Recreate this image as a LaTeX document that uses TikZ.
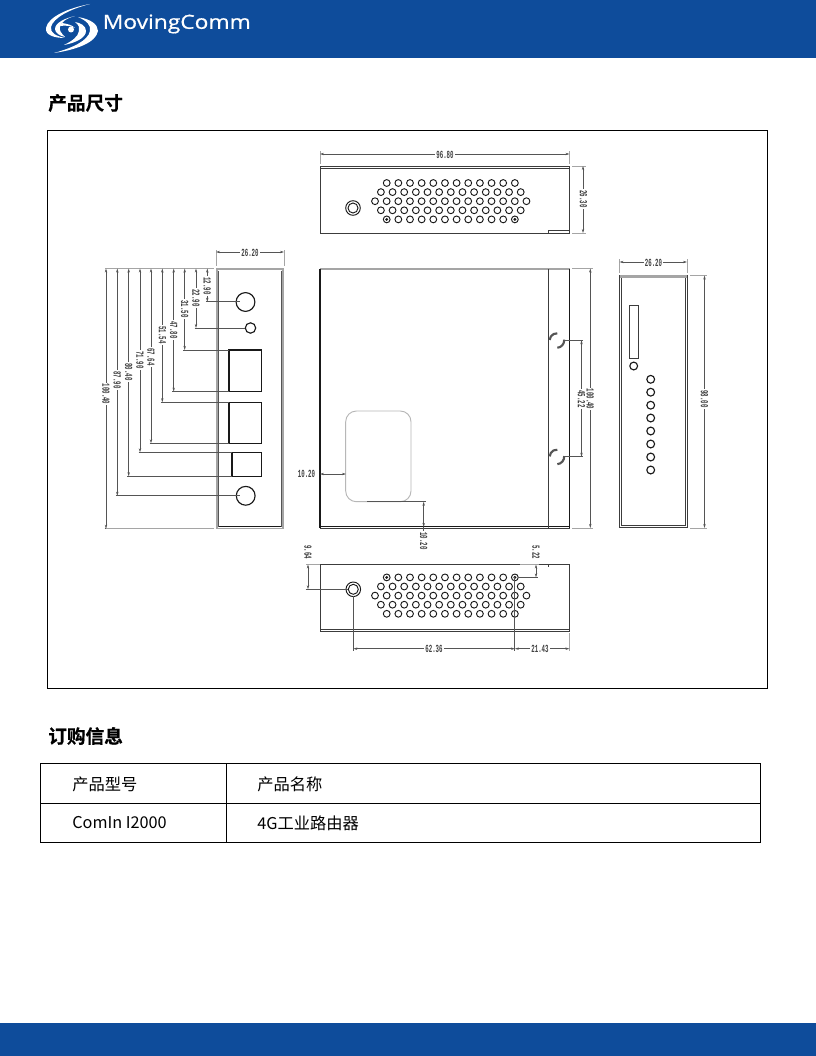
\documentclass[tikz,border=0pt]{standalone}
\usepackage{fontspec}
\setmainfont{Noto Sans CJK SC}
\newfontfamily\titlefont[FakeBold=0.5]{Noto Sans CJK SC Bold}
\newfontfamily\logofont[FakeBold=0.7]{Open Sans}
\newfontfamily\dimfont{Liberation Mono}
\usetikzlibrary{arrows.meta}
\definecolor{band}{RGB}{14,76,155}
\definecolor{dimc}{RGB}{85,85,85}
\definecolor{extc}{RGB}{165,165,165}
\definecolor{ink}{RGB}{25,25,25}
\tikzset{
  px/.style={x=0.75pt,y=-0.75pt},
  body/.style={draw=ink,line width=0.85pt},
  thin body/.style={draw=ink!85,line width=0.6pt},
  soft/.style={draw=extc,line width=1.7pt},
  ext/.style={draw=extc,line width=0.55pt},
  dim/.style={draw=dimc,line width=0.55pt,{Stealth[length=3pt,width=1.8pt]}-{Stealth[length=3pt,width=1.8pt]}},
  lead/.style={draw=dimc,line width=0.65pt},
  hole/.style={draw=ink,line width=0.7pt},
  dimlabel/.style={fill=white,inner sep=0.8pt,text=dimc!75!black,font=\dimfont\bfseries\fontsize{4.3}{5}\selectfont},
  title/.style={anchor=west,inner sep=0,font=\titlefont\fontsize{14}{16}\selectfont,text=black},
  cell/.style={anchor=west,inner sep=0,font=\fontsize{12.2}{14}\selectfont,text=black},
  grid/.style={draw=black,line width=0.75pt},
}
\newcommand{\hl}[4]{\node[dimlabel] (#1) at (#2,#3) {\scalebox{1}[1.9]{#4}};}
\newcommand{\vl}[4]{\node[dimlabel,rotate=-90] (#1) at (#2,#3) {\scalebox{1}[1.9]{#4}};}
\newcommand{\holes}[1]{% #1 = y of the first row
  \foreach \ry/\xs/\nn in {0/386.7/11,1/380.9/12,2/375/13,3/380.9/12,4/386.7/11}{
    \foreach \i in {0,...,\nn}{
      \draw[hole] ({\xs+\i*11.65},{#1+\ry*9.1}) circle[radius=3.4];
    }
  }
}
\begin{document}
\begin{tikzpicture}[px]
\useasboundingbox (0,0) rectangle (816,1056);
\fill[white] (0,0) rectangle (816,1056);
% bands
\fill[band] (0,0) rectangle (816,58);
\fill[band] (0,1023) rectangle (816,1056);
% logo swirl
\fill[white] (90,4) .. controls (68,8) and (48,17) .. (46,28) .. controls (45,35) and (54,38) .. (65,38)
  .. controls (56,36) and (50,33) .. (51,27) .. controls (53,18) and (70,9) .. (90,4) -- cycle;
\fill[white] (75,16) .. controls (65,18) and (55,23) .. (55,29) .. controls (55,33) and (60,36) .. (65,37)
  .. controls (61,33) and (59,30) .. (60,27) .. controls (61,22) and (67,18) .. (75,16) -- cycle;
\fill[white] (54,53) .. controls (75,50) and (96,43) .. (98,31) .. controls (98,24) and (90,19) .. (78,17)
  .. controls (87,21) and (91,25) .. (90,31) .. controls (88,41) and (72,48) .. (54,53) -- cycle;
\fill[white] (64,45) .. controls (75,43) and (86,38) .. (86,31) .. controls (86,26) and (81,23) .. (75,22)
  .. controls (79,25) and (80,28) .. (79,31) .. controls (78,37) and (72,41) .. (64,45) -- cycle;
\fill[white] (62,23) .. controls (68,24) and (72,25) .. (75,28) .. controls (71,26) and (66,25) .. (60,26) -- cycle;
\fill[white] (71,29.5) circle[radius=3];
\node[inner sep=0,anchor=center,text=white] (logotext) at (176.8,24) {\scalebox{1.17}[1]{\logofont\fontsize{14.6}{16}\selectfont MovingComm}};
% titles
\node[title] (t1) at (48,103) {产品尺寸};
\node[title] (t2) at (48,736) {订购信息};
% frame
\draw[draw=black,line width=0.6pt] (47.5,130.5) rectangle (767.5,688);

%% ---------- top view
\draw[thin body] (320,233) -- (320,166.5) -- (569.5,166.5) -- (569.5,233) -- cycle;
\draw[thin body] (320,168.5) -- (569.5,168.5);
\draw[thin body] (548,233) -- (548,230.8) -- (569.5,230.8);
\holes{183}
\foreach \hx in {386.7,514.9}{\fill[ink] (\hx,219.4) circle[radius=1.6];}
\draw[hole] (353,208) circle[radius=7.3];
\draw[hole] (353,208) circle[radius=5];
\draw[ext] (320,151) -- (320,164);
\draw[ext] (569.5,151) -- (569.5,164);
\draw[dim] (320,154) -- (569.5,154);
\hl{a}{445}{154.5}{96.80}
\draw[ext] (572,166) -- (586,166);
\draw[ext] (572,233) -- (586,233);
\draw[dim] (583,166) -- (583,233);
\vl{b}{583.5}{199}{26.30}

%% ---------- left (end) view
\draw[soft] (217.1,268.5) -- (217.1,528) (282.9,268.5) -- (282.9,528) (216,269.3) -- (284,269.3);
\draw[draw=dimc,line width=0.6pt] (218.8,270.5) -- (218.8,526.5) (281.4,270.5) -- (281.4,526.5);
\draw[body] (218.8,526.5) -- (281.4,526.5);
\draw[ext] (216,528.7) -- (284,528.7);
\draw[body] (245.5,302) circle[radius=9.4];
\draw[body] (250.5,328) circle[radius=5.2];
\draw[body] (229,350) rectangle (261.5,391.6);
\draw[body] (229,402.3) rectangle (261.5,443.3);
\draw[body] (232,452.3) rectangle (261.5,476.3);
\draw[body] (245.7,495.8) circle[radius=9.4];
\draw[ext] (216,250) -- (216,266);
\draw[ext] (284,250) -- (284,266);
\draw[dim] (216,252) -- (284,252);
\hl{c}{250}{252.5}{26.20}
\draw[ext] (105,268.5) -- (214,268.5);
\draw[ext] (105,528.7) -- (214,528.7);
% x, bottom y, leader end x, label y, text
\foreach \dx/\dy/\ex/\ly/\tx in {
  207.3/301.8/240/286/12.90,
  196/328/245/298/22.90,
  184.7/350/229/309/31.50,
  173.7/391.6/229/330/47.80,
  162.3/402.3/229/335/51.54,
  151/443.3/229/357/67.64,
  140/452.3/232/360/71.90,
  128.7/476.3/232/372/80.40,
  117.3/495.8/240/380/87.90,
  106/528.7/106/394/100.40}{
  \draw[dim] (\dx,268.5) -- (\dx,\dy);
  \draw[lead] (\dx-1.5,\dy) -- (\ex,\dy);
  \vl{l\dx}{\dx}{\ly}{\tx}
}

%% ---------- main (plan) view
\draw[soft] (320,269.3) -- (569.5,269.3);
\draw[body] (320,269) -- (320,527.5);
\draw[body] (569.5,269) -- (569.5,527.5);
\draw[body] (320,526.3) -- (569.5,526.3);
\draw[thin body] (320,528) -- (569.5,528);
\draw[thin body] (548.3,269) -- (548.3,528);
\draw[draw=extc!80,line width=0.7pt,rounded corners=8pt] (345.7,411) rectangle (411,501.7);
\draw[lead] (367,501.7) -- (426,501.7);
\foreach \sy in {340.3,456.7}{
  \draw[draw=dimc,line width=1.6pt] (556.7,\sy) ++(183:7) arc[start angle=183,end angle=275,radius=7];
  \draw[draw=dimc,line width=1.6pt] (556.7,\sy) ++(-5:7.5) arc[start angle=-5,end angle=85,radius=7.5];
}
\draw[dim] (320,474) -- (346,474);
\hl{d}{306.5}{474}{10.20}
\draw[dim] (423.7,501.7) -- (423.7,527);
\draw[lead] (423.7,527) -- (423.7,532);
\vl{e}{423.7}{541}{10.20}
\draw[ext] (572,268.5) -- (593,268.5);
\draw[ext] (572,528) -- (593,528);
\draw[dim] (590.3,268.5) -- (590.3,528);
\vl{f}{590.3}{399}{100.40}
\draw[lead] (565,340.3) -- (583,340.3);
\draw[lead] (565,456.7) -- (583,456.7);
\draw[dim] (581.5,340.3) -- (581.5,456.7);
\vl{g}{581.5}{399}{45.22}

%% ---------- right (front) view
\draw[thin body] (619.5,275.8) rectangle (687,527.7);
\draw[thin body] (621.5,277.8) rectangle (685,525.8);
\draw[soft] (620,276.5) -- (686.5,276.5);
\draw[thin body] (629,305) rectangle (638.3,358.3);
\draw[body] (633.7,366) circle[radius=3.9];
\foreach \ly in {379.3,392.2,405.2,418,431,444,457,470}{
  \draw[body] (650.7,\ly) circle[radius=3.9];
}
\draw[ext] (619.5,259) -- (619.5,273);
\draw[ext] (687,259) -- (687,273);
\draw[dim] (619.5,262) -- (687,262);
\hl{h}{653.5}{262.5}{26.20}
\draw[ext] (690,275.5) -- (707,275.5);
\draw[ext] (690,528) -- (707,528);
\draw[dim] (704.5,275.5) -- (704.5,528);
\vl{i}{704.5}{399}{98.00}

%% ---------- bottom view
\draw[thin body] (320,564.5) -- (320,631.7) -- (569.5,631.7) -- (569.5,564.5) -- cycle;
\draw[thin body] (320,629.3) -- (569.5,629.3);
\draw[thin body] (548.3,564.5) -- (548.3,566.5);
\holes{577.4}
\foreach \hx in {386.7,514.9}{\fill[ink] (\hx,577.4) circle[radius=1.6];}
\draw[hole] (353.3,589.3) circle[radius=7.3];
\draw[hole] (353.3,589.3) circle[radius=5];
\draw[ext] (306,564.5) -- (320,564.5);
\draw[lead] (305.5,589.3) -- (348,589.3);
\draw[dim] (308,564.5) -- (308,589.3);
\vl{j}{308}{552}{9.64}
\draw[ext] (520,564.5) -- (539,564.5);
\draw[lead] (518,577.4) -- (538,577.4);
\draw[dim] (536,564.5) -- (536,577.4);
\vl{k}{536}{552}{5.22}
\draw[lead] (353.3,596) -- (353.3,651);
\draw[lead] (514.9,577.4) -- (514.9,651);
\draw[ext] (569.5,633) -- (569.5,651);
\draw[dim] (353.3,648.7) -- (514.9,648.7);
\draw[dim] (514.9,648.7) -- (569.5,648.7);
\hl{m}{434}{649}{62.36}
\hl{n}{540}{649}{21.43}

%% ---------- table
\draw[grid] (40.5,763.5) rectangle (760.5,842);
\draw[grid] (40.5,803.5) -- (760.5,803.5);
\draw[grid] (226.5,763.5) -- (226.5,842);
\node[cell] (c11) at (72,784) {产品型号};
\node[cell] (c12) at (257,784) {产品名称};
\node[cell] (c21) at (72,823) {ComIn I2000};
\node[cell] (c22) at (257,823) {4G工业路由器};
\end{tikzpicture}
\end{document}
